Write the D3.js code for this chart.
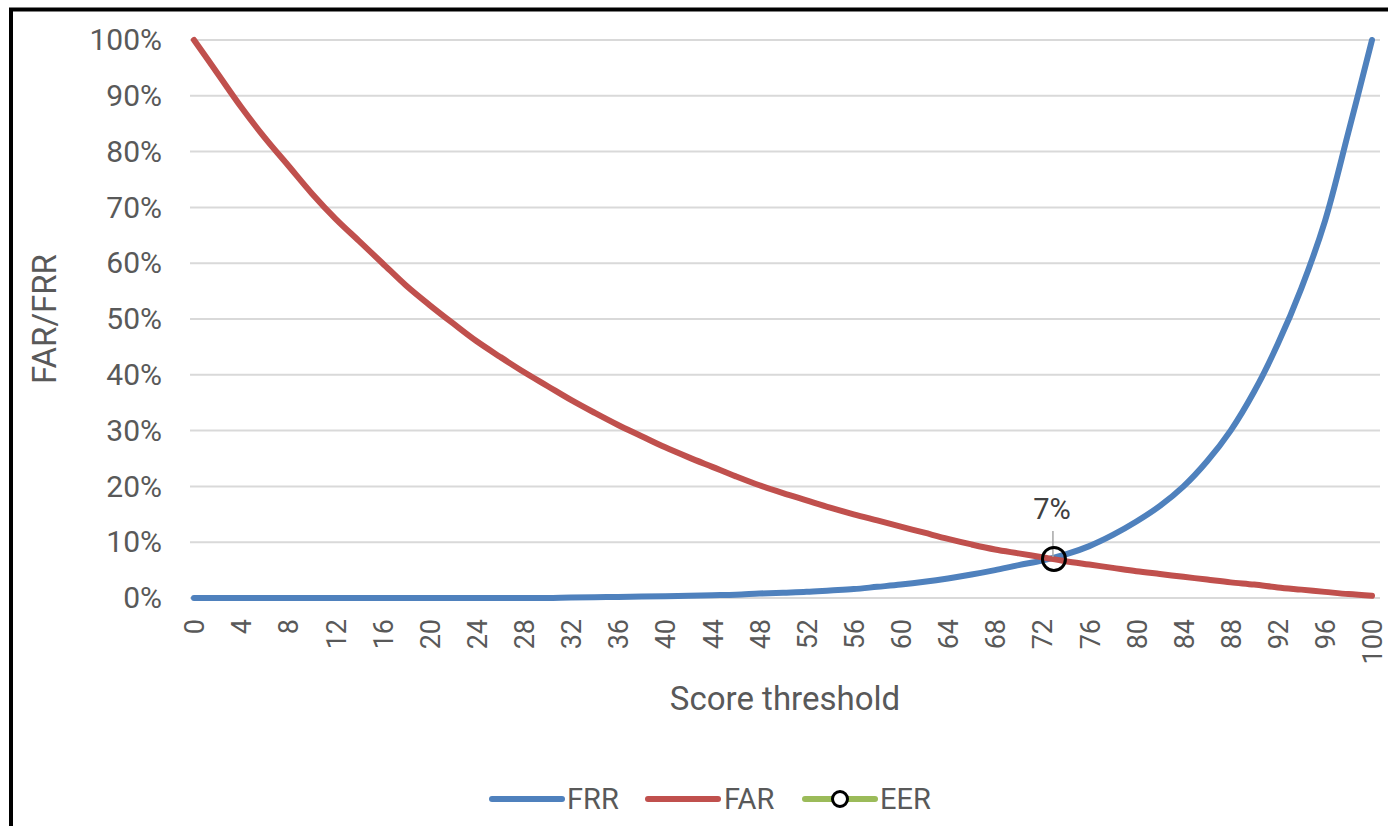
<!DOCTYPE html>
<html>
<head>
<meta charset="utf-8">
<script src="https://cdn.jsdelivr.net/npm/d3@7/dist/d3.min.js"></script>
<style>
  html, body { margin: 0; padding: 0; background: #fff; overflow: hidden; }
  svg { display: block; font-family: Roboto, "Noto Sans", sans-serif; }
</style>
</head>
<body>
<svg id="chart" width="1388" height="826"></svg>
<script>
// Score thresholds at which the error rates were measured
const thresholds = [
  0, 2, 4, 6, 8, 10, 12, 14, 16, 18, 20, 22, 24, 26, 28, 30, 32, 34, 36, 38, 40,
  42, 44, 46, 48, 50, 52, 54, 56, 58, 60, 62, 64, 66, 68, 70, 72, 74, 76, 78, 80,
  82, 84, 86, 88, 90, 92, 94, 96, 98, 100
];

// False rejection rate (%) per threshold
const frrValues = [
  0, 0, 0, 0, 0, 0, 0, 0, 0, 0, 0, 0, 0, 0, 0, 0, 0.1, 0.15, 0.2, 0.25, 0.3,
  0.4, 0.5, 0.6, 0.8, 0.95, 1.1, 1.35, 1.6, 2.0, 2.4, 2.9, 3.5, 4.2, 5.0, 5.9, 6.7, 7.8, 9.3, 11.3, 13.7,
  16.5, 20, 24.5, 30, 37, 45.5, 55.5, 67.5, 83.5, 100
];

// False acceptance rate (%) per threshold
const farValues = [
  100, 94, 88, 82.5, 77.5, 72.5, 68, 64, 60, 56, 52.5, 49.2, 46, 43.2, 40.5, 38, 35.5, 33.2, 31, 29, 27,
  25.2, 23.5, 21.8, 20.2, 18.8, 17.5, 16.2, 15, 13.9, 12.8, 11.7, 10.6, 9.6, 8.7, 8, 7.3, 6.6, 6, 5.4, 4.8,
  4.3, 3.8, 3.3, 2.8, 2.4, 1.9, 1.5, 1.1, 0.7, 0.4
];

// Equal error rate point
const eerThreshold = [73];
const eerValues = [7];

// Axis ticks
const xTickValues = [0, 4, 8, 12, 16, 20, 24, 28, 32, 36, 40, 44, 48, 52, 56, 60, 64, 68, 72, 76, 80, 84, 88, 92, 96, 100];
const yTickValues = [0, 10, 20, 30, 40, 50, 60, 70, 80, 90, 100];

const seriesNames = ["FRR", "FAR", "EER"];
const seriesColors = { FRR: "#4F81BD", FAR: "#C0504D", EER: "#9BBB59" };

const textColor = "#595959";
const svg = d3.select("#chart");

// Outer frame
svg.append("rect")
  .attr("x", 11).attr("y", 9.5)
  .attr("width", 1400).attr("height", 840)
  .attr("fill", "#fff")
  .attr("stroke", "#000").attr("stroke-width", 4);

const plot = { left: 190, right: 1380, top: 40, bottom: 598 };

const x = d3.scaleLinear().domain([0, 100]).range([194, 1372]);
const y = d3.scaleLinear().domain([0, 100]).range([plot.bottom, plot.top]);

// Horizontal gridlines
svg.append("g")
  .selectAll("line")
  .data(yTickValues)
  .join("line")
  .attr("x1", plot.left).attr("x2", plot.right)
  .attr("y1", d => y(d)).attr("y2", d => y(d))
  .attr("stroke", "#D9D9D9").attr("stroke-width", 2);

// Y axis labels
const yAxis = d3.axisLeft(y)
  .tickValues(yTickValues)
  .tickFormat(d => d + "%")
  .tickSize(0)
  .tickPadding(0);
const yg = svg.append("g").attr("transform", "translate(162,0)").call(yAxis);
yg.select(".domain").remove();
yg.selectAll("text")
  .attr("fill", textColor)
  .style("font-size", "30px")
  .style("font-family", "Roboto");

// X axis labels (rotated)
const xAxis = d3.axisBottom(x)
  .tickValues(xTickValues)
  .tickFormat(d3.format("d"))
  .tickSize(0);
const xg = svg.append("g").attr("transform", `translate(0,${plot.bottom})`).call(xAxis);
xg.select(".domain").remove();
xg.selectAll("text")
  .attr("fill", textColor)
  .style("font-size", "27px")
  .style("font-family", "Roboto")
  .attr("text-anchor", "end")
  .attr("transform", "rotate(-90)")
  .attr("x", -21)
  .attr("y", 0)
  .attr("dy", "0.36em");

// Axis titles
svg.append("text")
  .attr("x", 785).attr("y", 710)
  .attr("text-anchor", "middle")
  .attr("fill", textColor)
  .style("font-size", "33px")
  .text("Score threshold");

svg.append("text")
  .attr("transform", `translate(56,${(plot.top + plot.bottom) / 2}) rotate(-90)`)
  .attr("text-anchor", "middle")
  .attr("fill", textColor)
  .style("font-size", "33px")
  .text("FAR/FRR");

// Curves
const line = d3.line()
  .x((d, i) => x(thresholds[i]))
  .y(d => y(d))
  .curve(d3.curveCatmullRom.alpha(0.5));

svg.append("path")
  .datum(frrValues)
  .attr("d", line)
  .attr("fill", "none")
  .attr("stroke", seriesColors.FRR)
  .attr("stroke-width", 6)
  .attr("stroke-linecap", "round")
  .attr("stroke-linejoin", "round");

svg.append("path")
  .datum(farValues)
  .attr("d", line)
  .attr("fill", "none")
  .attr("stroke", seriesColors.FAR)
  .attr("stroke-width", 6)
  .attr("stroke-linecap", "round")
  .attr("stroke-linejoin", "round");

// EER marker with data label and leader line
const eer = eerThreshold.map((t, i) => ({ t, v: eerValues[i] }));
const eerG = svg.append("g");
eerG.selectAll("line.leader")
  .data(eer)
  .join("line")
  .attr("class", "leader")
  .attr("x1", d => x(d.t) - 1).attr("x2", d => x(d.t) - 1)
  .attr("y1", d => y(d.v) - 28).attr("y2", d => y(d.v) - 2)
  .attr("stroke", "#A6A6A6").attr("stroke-width", 1.5);
eerG.selectAll("circle")
  .data(eer)
  .join("circle")
  .attr("cx", d => x(d.t)).attr("cy", d => y(d.v))
  .attr("r", 11.5)
  .attr("fill", "none")
  .attr("stroke", "#000").attr("stroke-width", 3);
eerG.selectAll("text")
  .data(eer)
  .join("text")
  .attr("x", d => x(d.t) - 2).attr("y", d => y(d.v) - 40)
  .attr("text-anchor", "middle")
  .attr("fill", "#404040")
  .style("font-size", "29px")
  .text(d => d.v + "%");

// Legend
const legendItems = [
  { name: seriesNames[0], lx: 492, tx: 567 },
  { name: seriesNames[1], lx: 648, tx: 724 },
  { name: seriesNames[2], lx: 805, tx: 880 }
];
const legendY = 799;
const lg = svg.append("g");
legendItems.forEach(item => {
  lg.append("line")
    .attr("x1", item.lx).attr("x2", item.lx + 70)
    .attr("y1", legendY).attr("y2", legendY)
    .attr("stroke", seriesColors[item.name])
    .attr("stroke-width", 6)
    .attr("stroke-linecap", "round");
  if (item.name === "EER") {
    lg.append("circle")
      .attr("cx", item.lx + 35).attr("cy", legendY)
      .attr("r", 7.5)
      .attr("fill", "#fff")
      .attr("stroke", "#000").attr("stroke-width", 3);
  }
  lg.append("text")
    .attr("x", item.tx).attr("y", legendY)
    .attr("dy", "0.36em")
    .attr("fill", textColor)
    .style("font-size", "29px")
    .text(item.name);
});
</script>
</body>
</html>
